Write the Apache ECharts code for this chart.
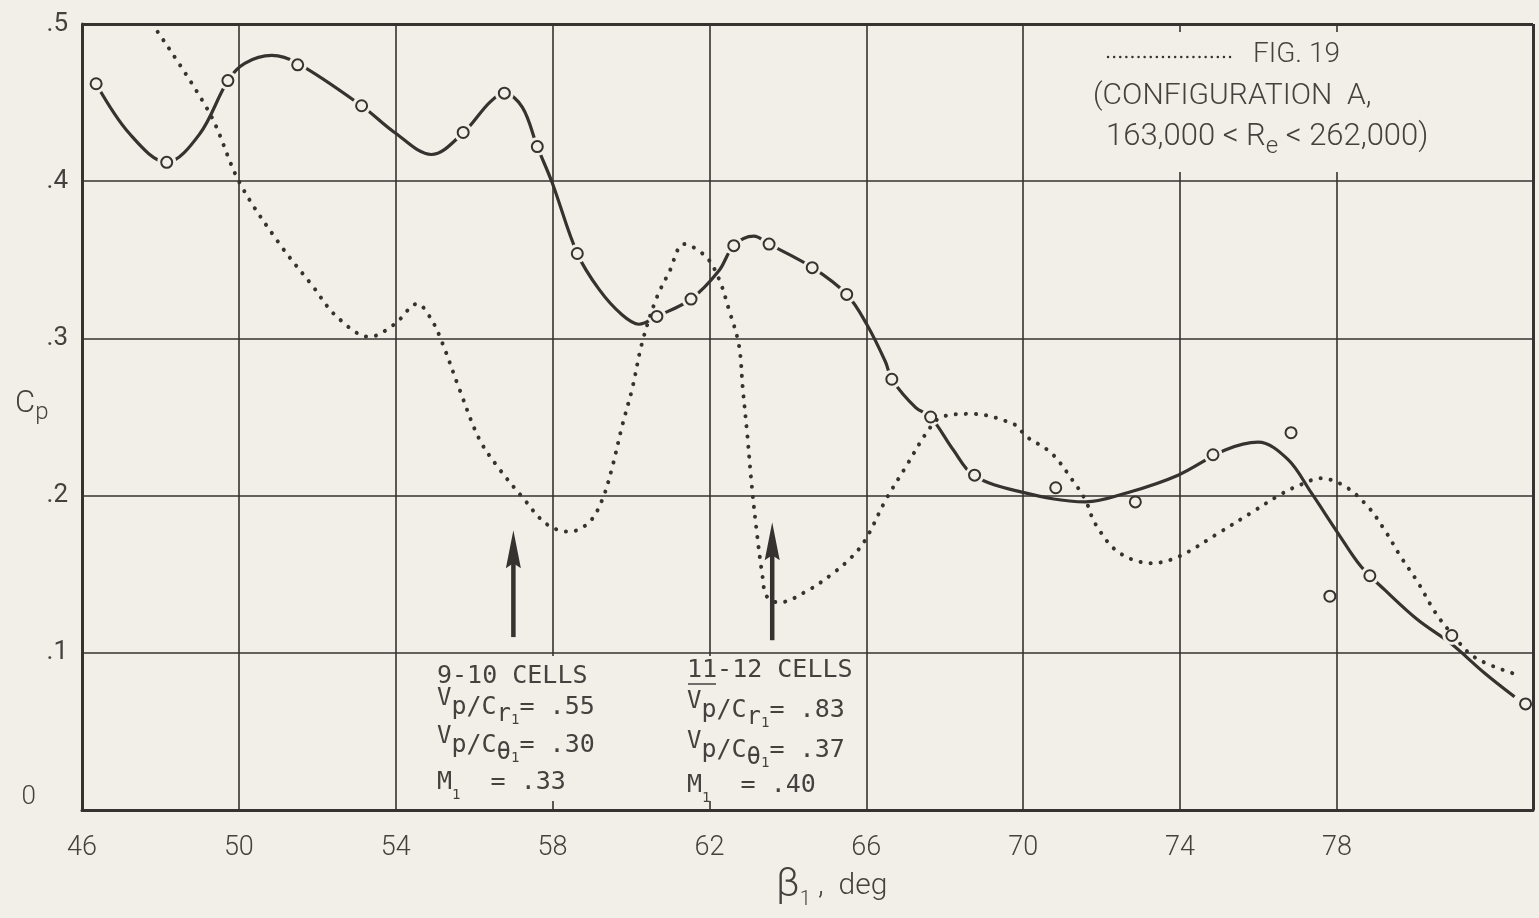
<!DOCTYPE html>
<html>
<head>
<meta charset="utf-8">
<script src="https://cdn.jsdelivr.net/npm/echarts@6/dist/echarts.min.js"></script>
<style>
  html, body { margin: 0; padding: 0; background: #f2efe9; }
  #chart { width: 1539px; height: 918px; }
</style>
</head>
<body>
<div id="chart"></div>
<script>
// ---------------- DATA ----------------
// x tick labels (beta_1, deg) and y tick labels (Cp)
const xTickLabels = ['46', '50', '54', '58', '62', '66', '70', '74', '78'];
const yTickLabels = ['0', '.1', '.2', '.3', '.4', '.5'];
const xGridLines = [50, 54, 58, 62, 66, 70, 74, 78];

// Measured points (open circles) [beta1, Cp]
const measuredPoints = [
  [46.36, 0.462], [48.16, 0.412], [49.72, 0.464], [51.50, 0.474], [53.13, 0.448],
  [55.72, 0.431], [56.77, 0.456], [57.61, 0.422], [58.63, 0.354], [60.66, 0.314],
  [61.53, 0.325], [62.62, 0.359], [63.52, 0.360], [64.62, 0.345], [65.50, 0.328],
  [66.65, 0.274], [67.64, 0.250], [68.76, 0.213], [70.83, 0.205], [72.86, 0.196],
  [74.84, 0.226], [76.83, 0.240], [77.82, 0.136], [78.84, 0.149], [80.93, 0.111],
  [82.81, 0.0675]
];

// Faired curve through the measured points [beta1, Cp]
const fairedCurve = [
  [46.36, 0.462], [47.22, 0.430], [48.16, 0.412], [49.00, 0.430], [49.72, 0.464],
  [50.15, 0.475], [50.84, 0.480], [51.50, 0.475], [53.13, 0.448], [53.97, 0.431],
  [54.91, 0.417], [55.73, 0.431], [56.39, 0.450], [56.77, 0.456], [57.23, 0.447],
  [57.61, 0.422], [57.99, 0.399], [58.63, 0.354], [59.19, 0.331], [59.77, 0.315],
  [60.20, 0.309], [60.66, 0.314], [61.53, 0.325], [62.24, 0.343], [62.62, 0.359],
  [63.13, 0.365], [63.52, 0.360], [64.63, 0.345], [65.50, 0.328], [66.01, 0.309],
  [66.49, 0.285], [66.65, 0.274], [67.26, 0.256], [67.64, 0.250], [68.22, 0.229],
  [68.73, 0.213], [69.83, 0.203], [71.59, 0.196], [72.68, 0.202], [73.95, 0.213],
  [75.15, 0.229], [75.99, 0.234], [76.75, 0.223], [77.34, 0.202], [78.03, 0.176],
  [78.61, 0.155], [79.22, 0.140], [80.06, 0.121], [80.90, 0.106], [81.77, 0.087],
  [82.53, 0.072]
];

// Dotted comparison curve (FIG. 19) [beta1, Cp]
const fig19Curve = [
  [47.93, 0.495], [49.26, 0.443], [50.02, 0.399], [51.04, 0.360], [51.86, 0.334],
  [52.49, 0.314], [53.33, 0.301], [53.97, 0.309], [54.55, 0.322], [54.91, 0.312],
  [55.19, 0.297], [55.62, 0.268], [56.13, 0.236], [56.64, 0.217], [57.23, 0.199],
  [57.84, 0.182], [58.42, 0.177], [58.93, 0.183], [59.26, 0.197], [59.52, 0.218],
  [59.77, 0.244], [60.03, 0.268], [60.28, 0.297], [60.64, 0.325], [60.97, 0.342],
  [61.35, 0.360], [61.91, 0.352], [62.24, 0.338], [62.50, 0.318], [62.75, 0.296],
  [62.85, 0.268], [62.96, 0.240], [63.08, 0.206], [63.21, 0.176], [63.34, 0.151],
  [63.46, 0.136], [63.77, 0.132], [64.53, 0.140], [65.12, 0.150], [65.63, 0.161],
  [65.98, 0.172], [66.49, 0.197], [67.00, 0.218], [67.59, 0.242], [67.92, 0.250],
  [68.68, 0.252], [69.80, 0.245], [70.06, 0.238], [70.72, 0.227], [71.28, 0.209],
  [71.59, 0.197], [71.84, 0.182], [72.43, 0.164], [73.27, 0.157], [73.95, 0.161],
  [74.97, 0.176], [75.81, 0.189], [76.58, 0.201], [77.08, 0.207], [77.59, 0.211],
  [78.20, 0.206], [78.79, 0.193], [79.22, 0.178], [79.63, 0.161], [80.06, 0.145],
  [80.50, 0.126], [80.90, 0.113], [81.52, 0.097], [82.61, 0.086]
];

// Arrows marking cell-change points: x position, tail Cp, tip Cp
const arrowX = [57.0, 63.6];
const arrowTail = [0.110, 0.108];
const arrowTip = [0.178, 0.183];

// ---------------- STYLE ----------------
const BG = '#f2efe9';
const INK = '#36322f';
const TXT = '#45413e';
const SANS = 'Roboto, "Open Sans", sans-serif';
const MONO = '"DejaVu Sans Mono", "Liberation Mono", monospace';

const chart = echarts.init(document.getElementById('chart'), null, { renderer: 'canvas' });

const option = {
  backgroundColor: BG,
  animation: false,
  grid: { left: 82, right: 6, top: 24, bottom: 108, show: false },
  xAxis: {
    type: 'value', min: 46, max: 83, interval: 4, z: 3,
    axisLine: { show: true, lineStyle: { color: INK, width: 3 } },
    axisTick: { show: false },
    splitLine: { show: false },
    axisLabel: {
      margin: 25, fontSize: 27, fontFamily: SANS, fontWeight: 300, color: TXT,
      formatter: v => (xTickLabels.indexOf(String(v)) >= 0 ? String(v) : '')
    }
  },
  yAxis: {
    type: 'value', min: 0, max: 0.5, interval: 0.1, z: 3,
    axisLine: { show: true, onZero: false, lineStyle: { color: INK, width: 3 } },
    axisTick: { show: false },
    splitLine: { show: true, lineStyle: { color: INK, width: 1.6 } },
    axisLabel: {
      margin: 14, fontSize: 26, fontFamily: SANS, fontWeight: 400, color: TXT,
      formatter: v => {
        const i = Math.round(v * 10);
        return i === 0 ? '{z|' + yTickLabels[0] + '}' : yTickLabels[i];
      },
      rich: { z: { fontSize: 26, fontFamily: SANS, fontWeight: 300, color: TXT, padding: [0, 32, 26, 0] } }
    }
  },
  series: [
    {
      name: 'Faired curve', type: 'line', data: fairedCurve, smooth: 0.35,
      symbol: 'none', z: 1, silent: true,
      lineStyle: { color: INK, width: 3.2 }
    },
    {
      name: 'gaps', type: 'scatter', data: measuredPoints, symbol: 'circle',
      symbolSize: 19, z: 2, silent: true, itemStyle: { color: BG, opacity: 1 }
    },
    {
      name: 'grid', type: 'line', data: [], z: 3, silent: true,
      markLine: {
        silent: true, symbol: 'none', animation: false,
        label: { show: false },
        lineStyle: { color: INK, width: 1.6, type: 'solid' },
        data: xGridLines.map(v => ({ xAxis: v }))
          .concat([{ xAxis: 83, lineStyle: { width: 3, color: INK, type: 'solid' } },
                   { yAxis: 0.5, lineStyle: { width: 3, color: INK, type: 'solid' } }])
      }
    },
    {
      name: 'FIG. 19', type: 'line', data: fig19Curve, smooth: 0.35,
      symbol: 'none', z: 4, silent: true,
      lineStyle: { color: INK, width: 4, type: [0.1, 10], cap: 'round' }
    },
    {
      name: 'Measured', type: 'scatter', data: measuredPoints, symbol: 'circle',
      symbolSize: 11, z: 5,
      itemStyle: { color: BG, borderColor: INK, borderWidth: 2, opacity: 1 }
    }
  ]
};
chart.setOption(option);

// ---------------- ANNOTATIONS ----------------
const richMono = {
  n: { fontFamily: MONO, fontSize: 25, lineHeight: 40, verticalAlign: 'middle', fill: TXT, color: TXT },
  hi: { fontFamily: MONO, fontSize: 24, lineHeight: 24, verticalAlign: 'top', fill: TXT, color: TXT },
  lo: { fontFamily: MONO, fontSize: 24, lineHeight: 24, verticalAlign: 'bottom', fill: TXT, color: TXT },
  s: { fontFamily: MONO, fontSize: 14, lineHeight: 14, verticalAlign: 'bottom', fill: TXT, color: TXT }
};
function monoText(x, y, text) {
  return {
    type: 'text', x: x, y: y, z: 11, silent: true,
    style: { text: text, fill: TXT, font: '25px ' + MONO, verticalAlign: 'middle', align: 'left', rich: richMono }
  };
}
function paperBox(x, y, w, h) {
  return { type: 'rect', z: 10, silent: true, shape: { x: x, y: y, width: w, height: h }, style: { fill: BG } };
}

const graphics = [];
// Paper behind the lettering (grid lines stop at the text blocks)
graphics.push(paperBox(1088, 32, 362, 140));
graphics.push(paperBox(431, 656, 172, 145));
graphics.push(paperBox(681, 656, 180, 145));

// Arrows
for (let i = 0; i < arrowX.length; i++) {
  const tail = chart.convertToPixel({ gridIndex: 0 }, [arrowX[i], arrowTail[i]]);
  const tip = chart.convertToPixel({ gridIndex: 0 }, [arrowX[i], arrowTip[i]]);
  const px = tail[0];
  graphics.push({
    type: 'line', z: 11, silent: true,
    shape: { x1: px, y1: tail[1], x2: px, y2: tip[1] + 20 },
    style: { stroke: INK, lineWidth: 4.5 }
  });
  graphics.push({
    type: 'polygon', z: 11, silent: true,
    shape: { points: [[px, tip[1]], [px + 7.5, tip[1] + 38], [px, tip[1] + 33], [px - 7.5, tip[1] + 38]] },
    style: { fill: INK }
  });
}

// Cell annotation blocks
graphics.push(monoText(437, 676, '{n|9-10 CELLS}'));
graphics.push(monoText(437, 707, '{hi|V}{n|p/C}{lo|r}{s|1}{n|= .55}'));
graphics.push(monoText(437, 745, '{hi|V}{n|p/C}{lo|θ}{s|1}{n|= .30}'));
graphics.push(monoText(437, 782, '{n|M}{s|1}{n|  = .33}'));

graphics.push(monoText(687, 670, '{n|11-12 CELLS}'));
graphics.push({
  type: 'line', z: 11, silent: true,
  shape: { x1: 688, y1: 684, x2: 716, y2: 684 },
  style: { stroke: TXT, lineWidth: 1.5 }
});
graphics.push(monoText(687, 710, '{hi|V}{n|p/C}{lo|r}{s|1}{n|= .83}'));
graphics.push(monoText(687, 750, '{hi|V}{n|p/C}{lo|θ}{s|1}{n|= .37}'));
graphics.push(monoText(687, 785, '{n|M}{s|1}{n|  = .40}'));

// Legend (top right)
graphics.push({
  type: 'line', z: 11, silent: true,
  shape: { x1: 1108, y1: 57, x2: 1232, y2: 57 },
  style: { stroke: INK, lineWidth: 2.4, lineDash: [0.1, 6], lineCap: 'round' }
});
graphics.push({
  type: 'text', x: 1253, y: 55, z: 11, silent: true,
  style: { text: 'FIG. 19', fill: TXT, font: '300 28px ' + SANS, verticalAlign: 'middle' }
});
graphics.push({
  type: 'text', x: 1093, y: 96, z: 11, silent: true,
  style: { text: '(CONFIGURATION  A,', fill: TXT, font: '300 30px ' + SANS, verticalAlign: 'middle' }
});
graphics.push({
  type: 'text', x: 1106, y: 137, z: 11, silent: true,
  style: {
    text: '{n|163,000 < R}{s|e}{n| < 262,000)}', verticalAlign: 'middle',
    rich: {
      n: { fontFamily: SANS, fontWeight: 300, fontSize: 31, lineHeight: 44, verticalAlign: 'middle', fill: TXT },
      s: { fontFamily: SANS, fontWeight: 300, fontSize: 24, lineHeight: 24, verticalAlign: 'bottom', fill: TXT }
    }
  }
});

// Axis titles
graphics.push({
  type: 'text', x: 776, y: 886, z: 11, silent: true,
  style: {
    text: '{b|β}{s|1}{n| ,  deg}', verticalAlign: 'middle',
    rich: {
      b: { fontFamily: SANS, fontWeight: 300, fontSize: 40, lineHeight: 48, verticalAlign: 'middle', fill: TXT },
      s: { fontFamily: SANS, fontWeight: 300, fontSize: 20, lineHeight: 20, verticalAlign: 'bottom', fill: TXT },
      n: { fontFamily: SANS, fontWeight: 300, fontSize: 30, lineHeight: 48, verticalAlign: 'middle', fill: TXT }
    }
  }
});
graphics.push({
  type: 'text', x: 15, y: 404, z: 11, silent: true,
  style: {
    text: '{c|C}{p|p}', verticalAlign: 'middle',
    rich: {
      c: { fontFamily: SANS, fontWeight: 300, fontSize: 31, lineHeight: 42, verticalAlign: 'middle', fill: TXT },
      p: { fontFamily: SANS, fontWeight: 300, fontSize: 24, lineHeight: 24, verticalAlign: 'bottom', fill: TXT }
    }
  }
});

chart.setOption({ graphic: graphics });
</script>
</body>
</html>
